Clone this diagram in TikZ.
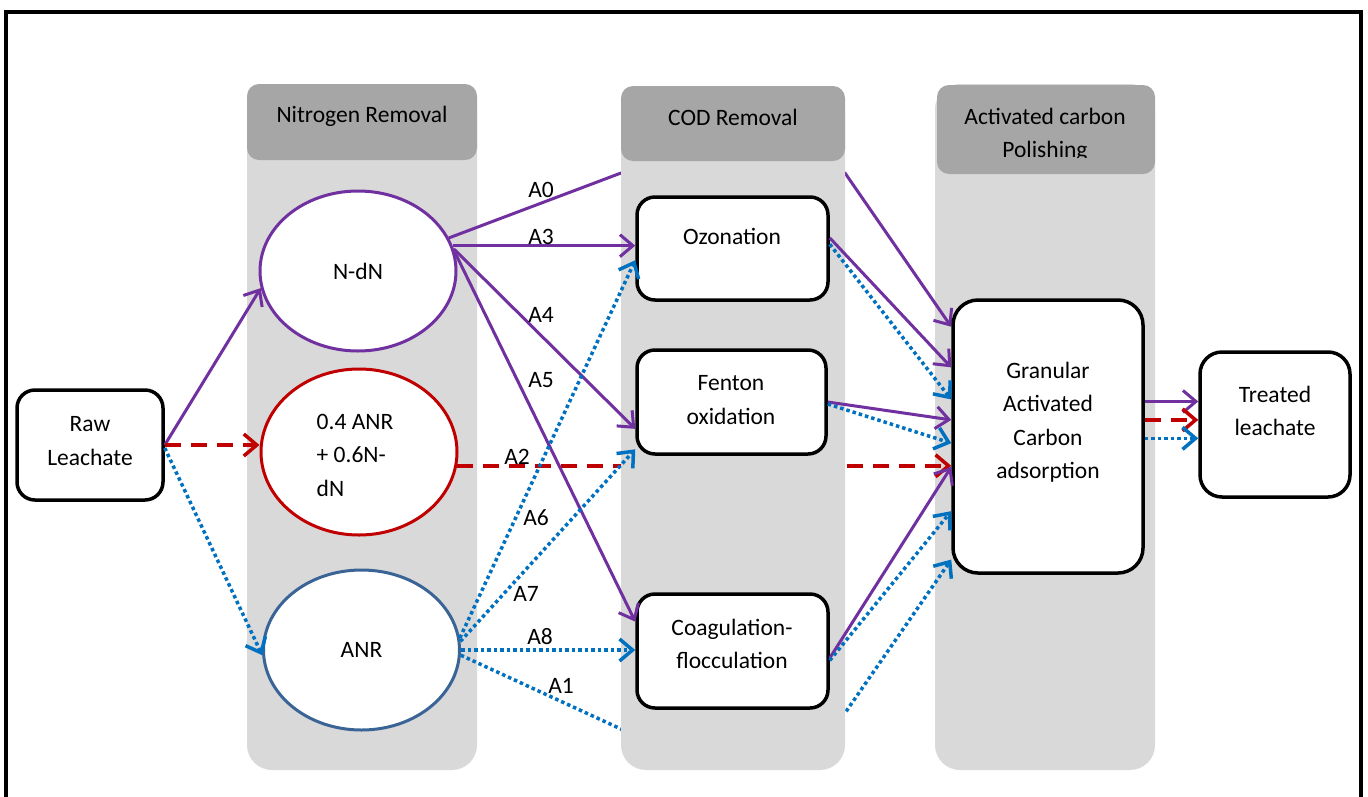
\documentclass[tikz,border=0pt]{standalone}
\usepackage{fontspec}
\setmainfont{Carlito}
\usetikzlibrary{shapes.geometric,arrows.meta,calc}
\pgfdeclarelayer{colA}
\pgfdeclarelayer{bypass}
\pgfdeclarelayer{colB}
\pgfsetlayers{colA,bypass,colB,main}
\definecolor{pur}{HTML}{7030A0}
\definecolor{rd}{HTML}{C00000}
\definecolor{bl}{HTML}{0070C0}
\definecolor{anrc}{HTML}{3B6496}
\definecolor{colgray}{HTML}{D9D9D9}
\definecolor{hdgray}{HTML}{A6A6A6}
\tikzset{
  txt/.style={font=\fontsize{23.5}{33.5}\selectfont, align=center, inner sep=0pt},
  box/.style={draw=black, line width=3.5pt, rounded corners=18pt, fill=white, inner sep=0pt},
  ell/.style={ellipse, line width=3pt, fill=white, minimum width=196pt, minimum height=160pt, inner sep=0pt, font=\fontsize{23.5}{33.5}\selectfont},
  arr/.style={-{Straight Barb[length=13pt,width=22pt]}},
  pl/.style={draw=pur, line width=3pt, arr},
  rl/.style={draw=rd, line width=3.5pt, dash pattern=on 16pt off 10pt, arr},
  bll/.style={draw=bl, line width=3.5pt, dash pattern=on 3.5pt off 3pt, arr},
  lbl/.style={font=\fontsize{23.5}{33.5}\selectfont, inner sep=0pt},
}
\begin{document}
\begin{tikzpicture}[x=1pt,y=-1pt]
\useasboundingbox (0,0) rectangle (1368,796);
% frame
\draw[line width=4pt] (6,800) -- (6,12) -- (1361,12) -- (1361,800);

% columns (N and AC)
\begin{pgfonlayer}{colA}
\fill[colgray, rounded corners=25pt] (247,84) rectangle (477,770);
\fill[hdgray, rounded corners=12pt] (247,84) rectangle (477,160);
\fill[colgray, rounded corners=25pt] (935,84) rectangle (1155,770);
\fill[hdgray, rounded corners=12pt] (937,85) rectangle (1155,174);
\node[txt] (h1) at (362,116) {Nitrogen Removal};
\begin{scope}
\clip (937,85) rectangle (1155,157);
\node[txt] (h3) at (1045,135) {Activated carbon\\Polishing};
\end{scope}
\end{pgfonlayer}

% COD column
\begin{pgfonlayer}{colB}
\fill[colgray, rounded corners=25pt] (621,86) rectangle (845,770);
\fill[hdgray, rounded corners=12pt] (621,86) rectangle (845,161);
\node[txt] (h2) at (733,117) {COD Removal};
\end{pgfonlayer}

% nodes
\node[box, minimum width=146pt, minimum height=110pt] (raw) at (90,445) {};
\node[txt] (rawt) at (90,441) {Raw\\Leachate};

\node[ell, draw=pur] (ndn) at (358,271) {N-dN};
\node[ell, draw=rd, minimum height=166pt] (mix) at (359,452) {};
\node[txt, align=left] (mixt) at (355,455) {0.4 ANR\\+ 0.6N-\\dN};
\node[ell, draw=anrc] (anr) at (361.5,650) {ANR};

\node[box, minimum width=191pt, minimum height=103pt] (oz) at (732.5,248.5) {};
\node[txt] (ozt) at (732,236) {Ozonation};
\node[box, minimum width=189pt, minimum height=104pt] (fen) at (731.5,402) {};
\node[txt] (fent) at (731,400) {Fenton\\oxidation};
\node[box, minimum width=191pt, minimum height=114pt] (coag) at (732.5,651) {};
\node[txt] (coagt) at (732,644) {Coagulation-\\flocculation};

\node[box, rounded corners=25pt, minimum width=190pt, minimum height=273pt] (gac) at (1048,436.5) {};
\node[txt] (gact) at (1048,422) {Granular\\Activated\\Carbon\\adsorption};
\node[box, rounded corners=22pt, minimum width=150pt, minimum height=145pt] (treat) at (1275,424.5) {};
\node[txt] (treatt) at (1275,411) {Treated\\leachate};

% GAC entry points
\coordinate (g0) at ($(gac.north west)!0.103!(gac.south west)$);
\coordinate (g1) at ($(gac.north west)!0.25!(gac.south west)$);
\coordinate (g2) at ($(gac.north west)!0.366!(gac.south west)$);
\coordinate (g3) at ($(gac.north west)!0.44!(gac.south west)$);
\coordinate (g4) at ($(gac.north west)!0.524!(gac.south west)$);
\coordinate (g5) at ($(gac.north west)!0.61!(gac.south west)$);
\coordinate (g6) at ($(gac.north west)!0.77!(gac.south west)$);
\coordinate (g7) at ($(gac.north west)!0.945!(gac.south west)$);

% bypass routes (hidden behind COD column)
\coordinate (a0a) at (621,173);
\coordinate (a0b) at (845,173);
\coordinate (a1a) at (621,729);
\coordinate (a1b) at (845,713);
\begin{pgfonlayer}{bypass}
\draw[pl] (ndn.20) -- (a0a) -- (a0b) -- (g0);
\draw[bll] (anr.-3) -- (a1a) -- (a1b) -- (g7);
\draw[rl] (mix.-8) -- (mix.-8 -| gac.west);
\end{pgfonlayer}

% from raw leachate
\draw[pl] (raw.east) -- (ndn.190);
\draw[rl] (raw.east) -- (raw.east -| mix.west);
\draw[bll] ([yshift=-3pt]raw.east) -- (anr.183);

% N-dN to COD
\draw[pl] (ndn.15) -- (ndn.15 -| oz.west);
\draw[pl] (ndn.13) -- ($(fen.west)!0.5!(fen.south west)$);
\draw[pl] (ndn.11) -- ($(coag.north west)!0.5!(coag.west)$);

% ANR to COD
\draw[bll] (anr.7) -- ($(oz.west)!0.22!(oz.south west)$);
\draw[bll] (anr.5) -- ($(fen.west)!0.88!(fen.south west)$);
\draw[bll] (anr.0) -- (anr.0 -| coag.west);

% COD to GAC
\draw[pl] ($(oz.north east)!0.4!(oz.south east)$) -- (g1);
\draw[bll] ($(oz.north east)!0.46!(oz.south east)$) -- (g2);
\draw[pl] (fen.east) -- (g3);
\draw[bll] ($(fen.east)+(0,2)$) -- (g4);
\draw[pl] ($(coag.north east)!0.56!(coag.south east)$) -- (g5);
\draw[bll] ($(coag.north east)!0.58!(coag.south east)$) -- (g6);

% GAC to treated
\coordinate (t1) at ($(treat.north west)!0.345!(treat.south west)$);
\coordinate (t2) at ($(treat.north west)!0.469!(treat.south west)$);
\coordinate (t3) at ($(treat.north west)!0.593!(treat.south west)$);
\draw[pl] (gac.east |- t1) -- (t1);
\draw[rl] (gac.east |- t2) -- (t2);
\draw[bll] (gac.east |- t3) -- (t3);

% labels
\node[lbl] (la0) at (541,190) {A0};
\node[lbl] (la3) at (541,237) {A3};
\node[lbl] (la4) at (541,315) {A4};
\node[lbl] (la5) at (541,380) {A5};
\node[lbl] (la2) at (517,457) {A2};
\node[lbl] (la6) at (536,518) {A6};
\node[lbl] (la7) at (526,594) {A7};
\node[lbl] (la8) at (540,637) {A8};
\node[lbl] (la1) at (561,686) {A1};
\end{tikzpicture}
\end{document}
